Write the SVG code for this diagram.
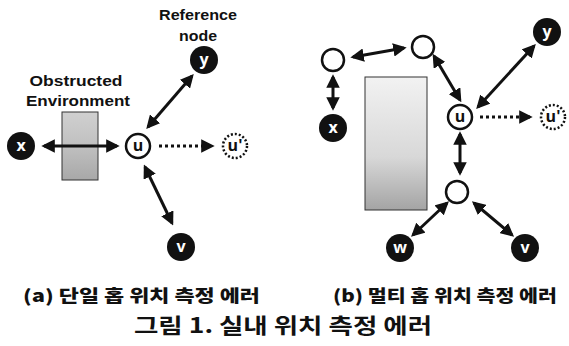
<svg xmlns="http://www.w3.org/2000/svg" width="569" height="346" viewBox="0 0 569 346">
<defs>
<style>
.lbl{font-family:"Liberation Sans",sans-serif;font-weight:bold;font-size:15px;fill:#111;text-anchor:middle}
.dark{fill:#111}
.open{fill:#fff;stroke:#111;stroke-width:2.5}
.dot{fill:#fff;stroke:#111;stroke-width:2.5;stroke-dasharray:2 2}
.nt{font-family:"Open Sans","Liberation Sans",sans-serif;font-weight:bold;font-size:16px;text-anchor:middle}
.w{fill:#fff}
.b{fill:#111}
.ar{stroke:#111;stroke-width:3;fill:none;marker-start:url(#ah);marker-end:url(#ah)}
.da{stroke:#111;stroke-width:3;fill:none;stroke-dasharray:3 3;marker-end:url(#ah)}
.cap{font-family:"Noto Sans CJK KR",sans-serif;font-weight:900;font-size:17px;fill:#111}
.ttl{font-family:"Noto Sans CJK KR",sans-serif;font-weight:bold;font-size:21px;fill:#111}
</style>
<marker id="ah" viewBox="0 0 10 10" refX="8" refY="5" markerWidth="4.5" markerHeight="4.5" orient="auto-start-reverse" markerUnits="strokeWidth">
<path d="M0,0 L10,5 L0,10 z" fill="#111"/>
</marker>
<linearGradient id="g1" x1="0" y1="0" x2="0" y2="1">
<stop offset="0" stop-color="#d0d0d0"/><stop offset="0.5" stop-color="#c0c0c0"/><stop offset="1" stop-color="#a8a8a8"/>
</linearGradient>
<linearGradient id="g2" x1="0" y1="0" x2="0" y2="1">
<stop offset="0" stop-color="#f2f2f2"/><stop offset="0.6" stop-color="#d8d8d8"/><stop offset="1" stop-color="#a4a4a4"/>
</linearGradient>
</defs>
<rect width="569" height="346" fill="#fff"/>

<!-- Panel (a) -->
<g id="a-labels">
<text class="lbl" x="198" y="20" textLength="78" lengthAdjust="spacingAndGlyphs">Reference</text>
<text class="lbl" x="198" y="41" textLength="38" lengthAdjust="spacingAndGlyphs">node</text>
<text class="lbl" x="76" y="86" textLength="93" lengthAdjust="spacingAndGlyphs">Obstructed</text>
<text class="lbl" x="78" y="106" textLength="104" lengthAdjust="spacingAndGlyphs">Environment</text>
</g>
<g id="a-obstacle"><rect x="62" y="112" width="36" height="68" fill="url(#g1)" stroke="#333" stroke-width="1"/></g>
<g id="a-connectors">
<line class="ar" x1="44" y1="146" x2="117" y2="146"/>
<line class="ar" x1="148" y1="127" x2="192" y2="76"/>
<line class="ar" x1="145" y1="167" x2="172" y2="223"/>
<line class="da" x1="159" y1="146" x2="212" y2="146"/>
</g>
<g id="a-x"><circle class="dark" cx="21" cy="146" r="14"/><text class="nt w" x="21" y="151">x</text></g>
<g id="a-u"><circle class="open" cx="138" cy="146" r="12"/><text class="nt b" x="138" y="151">u</text></g>
<g id="a-u2"><circle class="dot" cx="235" cy="146" r="12"/><text class="nt b" x="235" y="151">u'</text></g>
<g id="a-y"><circle class="dark" cx="204" cy="60" r="14"/><text class="nt w" x="204" y="65">y</text></g>
<g id="a-v"><circle class="dark" cx="181" cy="247" r="14"/><text class="nt w" x="181" y="252">v</text></g>

<!-- Panel (b) -->
<g id="b-obstacle"><rect x="365" y="77" width="62" height="133" fill="url(#g2)" stroke="#333" stroke-width="1"/></g>
<g id="b-connectors">
<line class="ar" x1="353" y1="57" x2="404" y2="48"/>
<line class="ar" x1="333" y1="77" x2="333" y2="108"/>
<line class="ar" x1="434" y1="56" x2="460" y2="100"/>
<line class="ar" x1="478" y1="107" x2="534" y2="46"/>
<line class="ar" x1="460" y1="134" x2="460" y2="173"/>
<line class="ar" x1="447" y1="203" x2="413" y2="235"/>
<line class="ar" x1="474" y1="203" x2="512" y2="235"/>
<line class="da" x1="480" y1="117" x2="530" y2="117"/>
</g>
<g id="b-c1"><circle class="open" cx="333" cy="60" r="11"/></g>
<g id="b-c2"><circle class="open" cx="423" cy="47" r="11"/></g>
<g id="b-c3"><circle class="open" cx="457" cy="192" r="11"/></g>
<g id="b-x"><circle class="dark" cx="333" cy="128" r="14"/><text class="nt w" x="333" y="133">x</text></g>
<g id="b-y"><circle class="dark" cx="547" cy="32" r="14"/><text class="nt w" x="547" y="37">y</text></g>
<g id="b-u"><circle class="open" cx="460" cy="117" r="12"/><text class="nt b" x="460" y="122">u</text></g>
<g id="b-u2"><circle class="dot" cx="553" cy="117" r="12"/><text class="nt b" x="553" y="122">u'</text></g>
<g id="b-w"><circle class="dark" cx="400" cy="248" r="14"/><text class="nt w" x="400" y="253">w</text></g>
<g id="b-v"><circle class="dark" cx="525" cy="248" r="14"/><text class="nt w" x="525" y="253">v</text></g>

<g id="captions">
<text class="cap" x="23" y="302" textLength="237" lengthAdjust="spacingAndGlyphs">(a) 단일 홉 위치 측정 에러</text>
<text class="cap" x="333" y="302" textLength="224" lengthAdjust="spacingAndGlyphs">(b) 멀티 홉 위치 측정 에러</text>
<text class="ttl" x="134" y="333" textLength="298" lengthAdjust="spacingAndGlyphs">그림 1. 실내 위치 측정 에러</text>
</g>
</svg>
